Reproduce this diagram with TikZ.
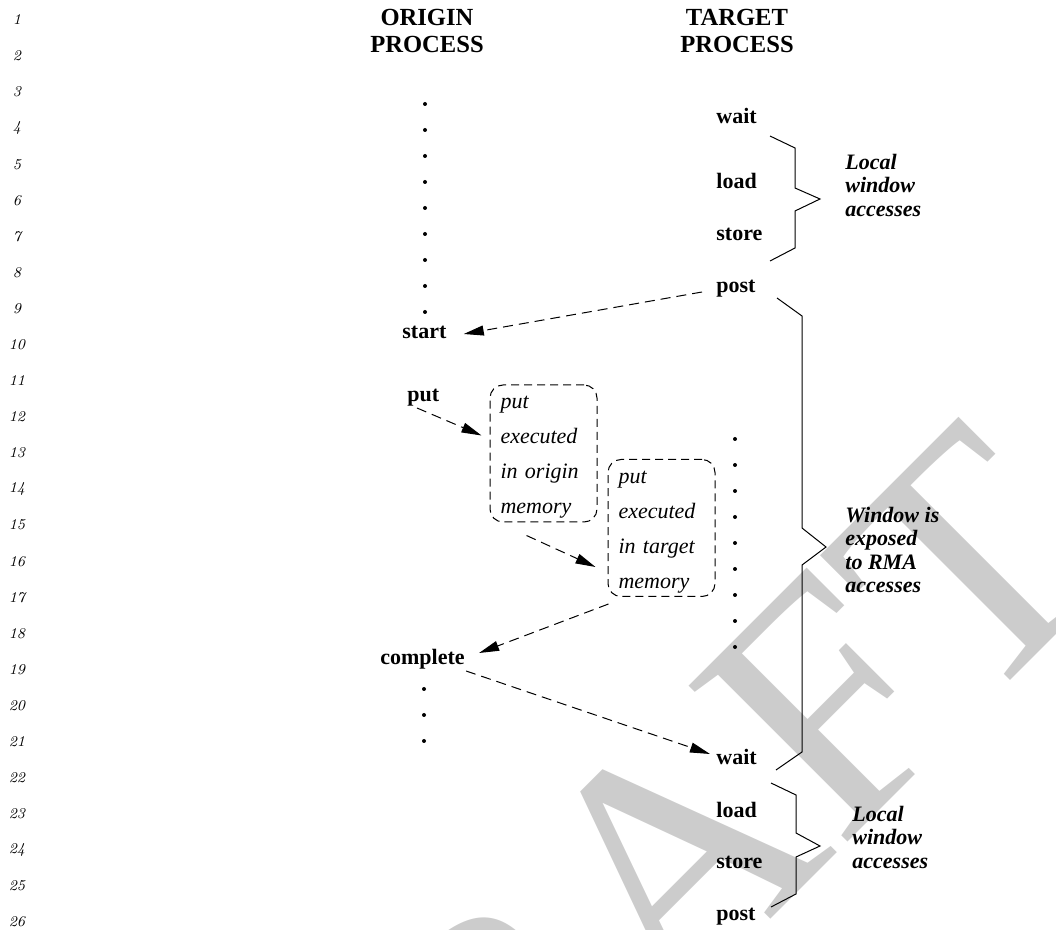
\documentclass[tikz,border=0pt]{standalone}
\usepackage{fontspec}
\newfontfamily\tms{Liberation Serif}
\usetikzlibrary{arrows.meta}

\begin{document}
\begin{tikzpicture}[x=0.5pt, y=-0.5pt,
    lnum/.style={inner sep=0pt, font=\fontsize{7.5}{9}\selectfont\itshape},
    header/.style={anchor=north, align=center, inner sep=0pt, font=\tms\bfseries\fontsize{12.3}{13.5}\selectfont},
    oplabel/.style={anchor=base west, inner sep=0pt, font=\tms\bfseries\fontsize{11}{13}\selectfont},
    epochnote/.style={anchor=north west, align=left, inner sep=0pt, font=\tms\bfseries\itshape\fontsize{11}{11.6}\selectfont},
    membox/.style={draw, dash pattern=on 4pt off 2.5pt, line width=0.5pt, rounded corners=6.5pt,
        minimum width=53.5pt, minimum height=68.5pt, text width=43pt, inner xsep=5.25pt, inner ysep=1pt,
        align=left, font=\tms\itshape\fontsize{11}{17.5}\selectfont,
        execute at begin node={\rule{0pt}{10pt}}},
    syncarrow/.style={-{Triangle[length=10pt,width=5pt]}, dash pattern=on 5pt off 3pt, line width=0.5pt},
    bracket/.style={line width=0.5pt}]
    \useasboundingbox (0,0) rectangle (1056,930);

    % watermark
    \begin{scope}
        \clip (0,0) rectangle (1056,930);
        \node[rotate=45, inner sep=0pt, text=black!20, font=\tms\fontsize{170}{170}\selectfont] (draftmark) at (647,885) {DRAFT};
    \end{scope}

    % line numbers
    \foreach \n in {1,...,26}
        \node[lnum] (ln\n) at (17,{20+(\n-1)*36.08}) {\n};

    \node[header] (orighead) at (427,9) {ORIGIN\\PROCESS};
    \node[header] (targhead) at (737,9) {TARGET\\PROCESS};

    % origin process
    \foreach \k in {0,...,8}
        \fill (425,{104+26*\k}) circle[radius=1pt];
    \node[oplabel] (start)    at (402,339) {start};
    \node[oplabel] (put)      at (407,402) {put};
    \node[oplabel] (complete) at (380,665) {complete};
    \foreach \k in {0,1,2}
        \fill (424,{689+26*\k}) circle[radius=1pt];

    % target process
    \node[oplabel] (wait1)  at (716,124) {wait};
    \node[oplabel] (load1)  at (716,189) {load};
    \node[oplabel] (store1) at (716,241) {store};
    \node[oplabel] (post1)  at (716,293) {post};
    \foreach \k in {0,...,8}
        \fill (735,{439+26*\k}) circle[radius=1pt];
    \node[oplabel] (wait2)  at (716,764) {wait};
    \node[oplabel] (load2)  at (716,817) {load};
    \node[oplabel] (store2) at (716,868) {store};
    \node[oplabel] (post2)  at (716,920) {post};

    \node[membox] (originmem) at (543.5,453.5) {put\\executed\\in origin\\memory};
    \node[membox] (targetmem) at (661.5,528)   {put\\executed\\in target\\memory};

    % braces
    \draw[bracket] (770,136) -- (795,148) -- (795,188) -- (820,199) -- (795,211) -- (795,248) -- (770,261);
    \draw[bracket] (777,298) -- (802,316) -- (802,528) -- (826,547) -- (802,565) -- (802,752) -- (776,770);
    \draw[bracket] (771,783) -- (796,795) -- (796,833) -- (820,846) -- (796,857) -- (796,894) -- (771,907);

    \node[epochnote] (local1)  at (845,154) {Local\\window\\accesses};
    \node[epochnote] (exposed) at (845,507) {Window is\\exposed\\to RMA\\accesses};
    \node[epochnote] (local2)  at (852,806) {Local\\window\\accesses};

    % synchronisation
    \draw[syncarrow] ([xshift=-7pt,yshift=0.5pt]post1.base west) -- ([xshift=8.5pt,yshift=2.5pt]start.base east);
    \draw[syncarrow] ([xshift=5pt,yshift=-3pt]put.base west) -- ([xshift=-4pt,yshift=9pt]originmem.west);
    \draw[syncarrow] ([xshift=18.5pt,yshift=-6.5pt]originmem.south west) -- ([xshift=-6pt,yshift=-19.5pt]targetmem.west);
    \draw[syncarrow] ([xshift=0.5pt,yshift=-3.5pt]targetmem.south west) -- ([xshift=7pt,yshift=6pt]complete.base east);
    \draw[syncarrow] ([xshift=0.5pt,yshift=-3pt]complete.base east) -- ([xshift=-3pt,yshift=5pt]wait2.base west);
\end{tikzpicture}
\end{document}
